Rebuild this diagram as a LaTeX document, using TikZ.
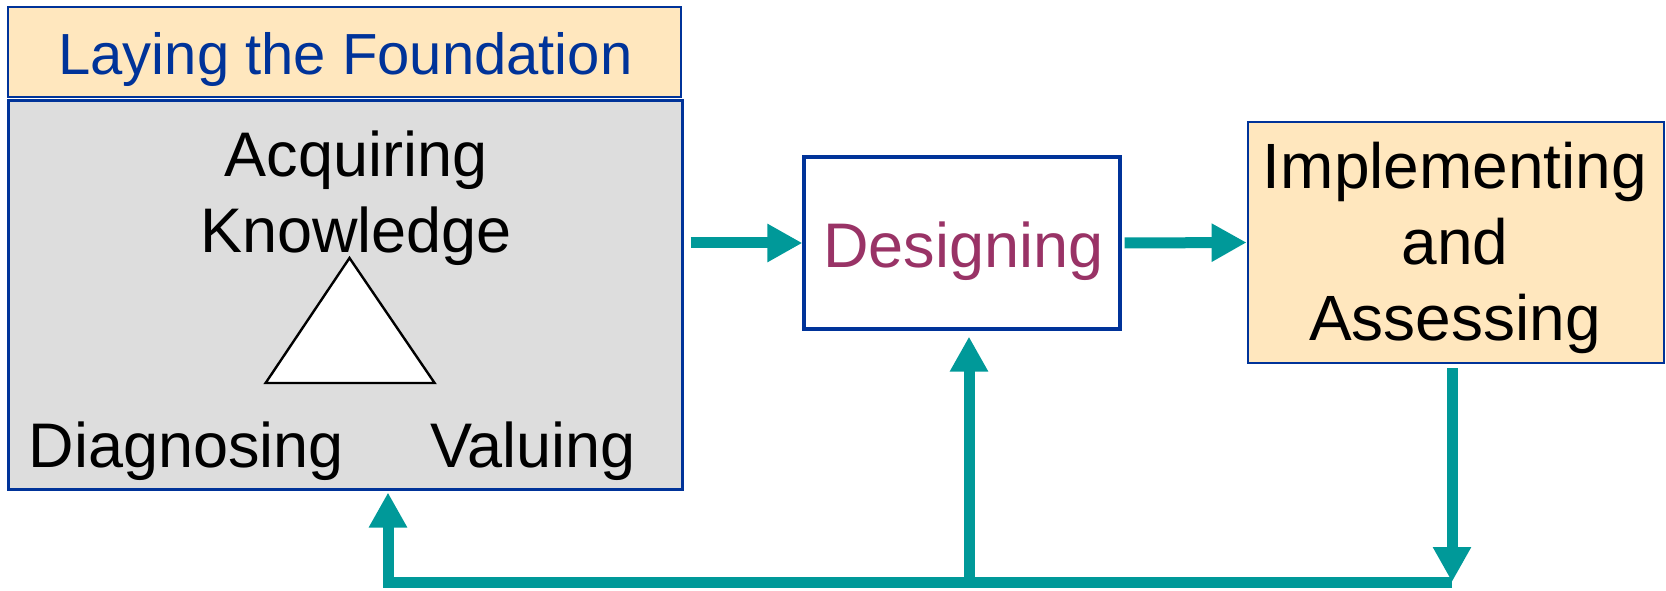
\documentclass[tikz,border=0pt]{standalone}
\usepackage{fontspec}
\setmainfont{Liberation Sans}
\usetikzlibrary{arrows.meta}
\usetikzlibrary{calc,shapes}
\definecolor{bleu}{RGB}{0,51,153}
\definecolor{sarcelle}{RGB}{0,153,153}
\definecolor{beige}{RGB}{255,231,190}
\definecolor{gris}{RGB}{221,221,221}
\definecolor{prune}{RGB}{153,51,102}
\tikzset{
	boite/.style={draw=bleu,rectangle,inner sep=0pt},
	texte/.style={inner sep=0pt,font=\fontsize{31.5}{38}\selectfont},
	fleche/.style={draw=sarcelle,line width=5.5pt,-{Triangle[length=17.5pt,width=18pt]}}
}
\begin{document}
\begin{tikzpicture}[x=0.5pt,y=0.5pt]
				\useasboundingbox (0,0) rectangle (1666,590);
				% Boîtes
				\node [boite,fill=beige,line width=1pt,minimum width=336.5pt,minimum height=45pt] (titre) at (344.5,538) {};
				\node [boite,fill=gris,line width=1.5pt,minimum width=337pt,minimum height=194pt] (fondation) at (345,295) {};
				\node [boite,fill=white,line width=1.6pt,minimum width=158pt,minimum height=86pt] (conception) at (962,347) {};
				\node [boite,fill=beige,line width=1.4pt,minimum width=208pt,minimum height=120.5pt] (mise) at (1456,347.5) {};
				\node [texte,text=bleu,font=\fontsize{29}{35}\selectfont,anchor=base] (titreT) at (345.5,515) {Laying the Foundation};
				\node [texte,align=center] (acquerirT) at (356,392.25) {Acquiring\\Knowledge};
				\node [texte,anchor=base] (diagT) at (186.5,123) {Diagnosing};
				\node [texte,anchor=base] (valT) at (533,123) {Valuing};
				\node [texte,text=prune,anchor=base] (conceptionT) at (963.5,322.3) {Designing};
				\node [texte,font=\fontsize{32}{38}\selectfont,align=center] (miseT) at (1455,342) {Implementing\\and\\Assessing};
				\draw [line width=1.2pt,fill=white] (349.5,332) -- (265.6,207) -- (434.6,207) -- cycle;
				% Flèches
				\coordinate (coinD) at (1452,8);
				\coordinate (coinG) at (388,8);
				\coordinate (milieu) at (969,8);
				\draw [fleche] ($(fondation.east |- conception.west)+(7,0)$) -- (conception.west);
				\draw [fleche] ($(conception.east)+(3,0)$) -- (mise.west);
				\draw [fleche] ($(mise.south)+(-4,-4)$) -- (coinD);
				\draw [fleche] (coinD) -- (coinG) -- ($(coinG |- fondation.south)+(0,-2)$);
				\draw [fleche] (milieu) -- ($(milieu |- conception.south)+(0,-6)$);
\end{tikzpicture}
\end{document}
